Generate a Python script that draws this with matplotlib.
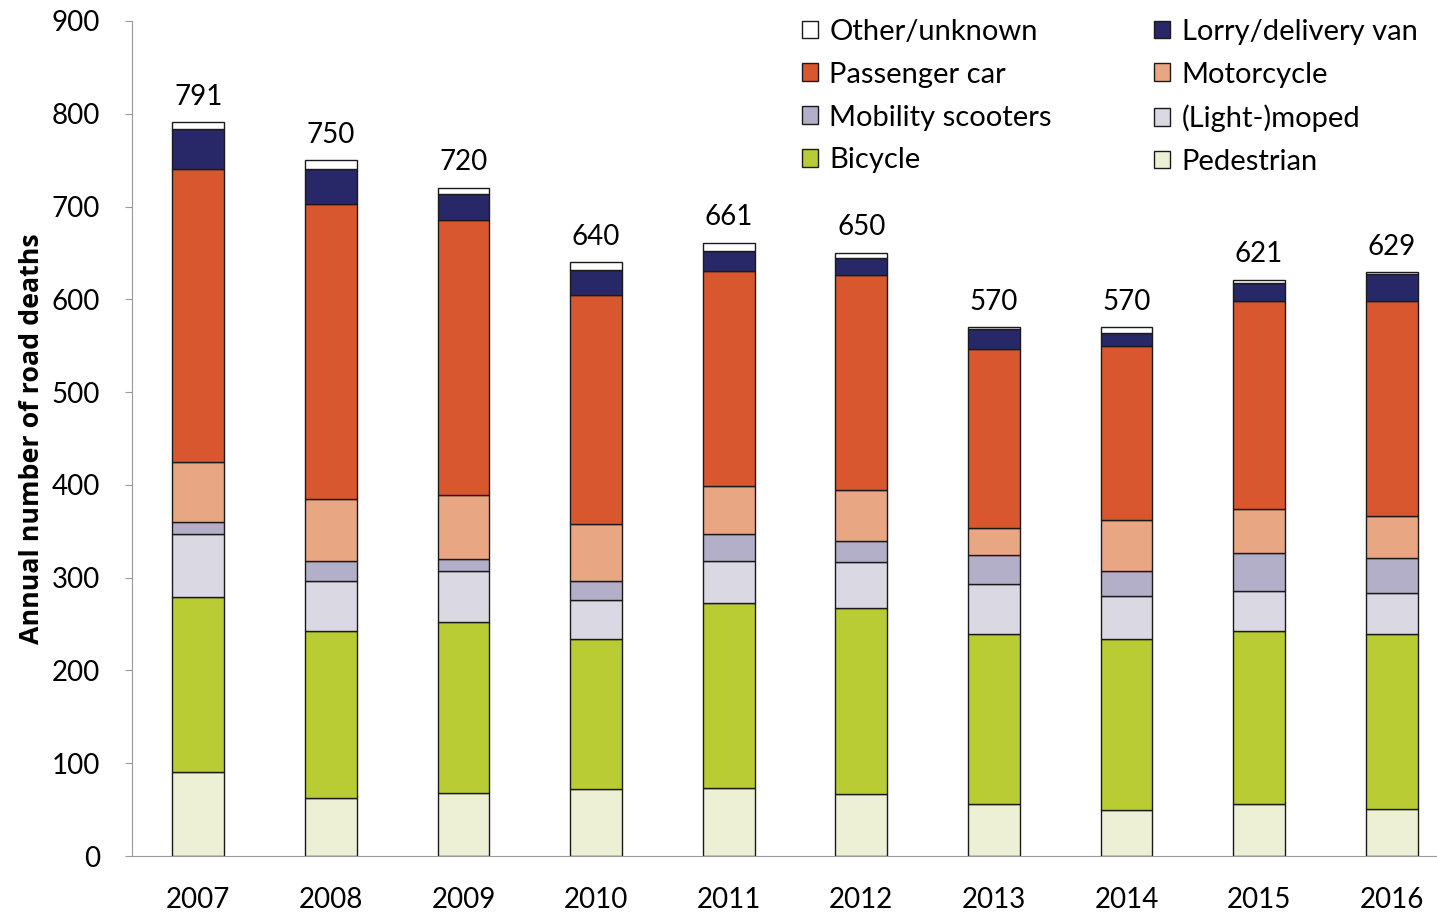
import matplotlib.pyplot as plt
import numpy as np

# Road deaths per transport mode
years = ["2007", "2008", "2009", "2010", "2011", "2012", "2013", "2014", "2015", "2016"]
pedestrian = [91, 62, 68, 72, 73, 67, 56, 50, 56, 51]
bicycle = [188, 180, 184, 162, 200, 200, 183, 184, 186, 188]
moped = [68, 54, 55, 42, 45, 50, 54, 46, 44, 44]
scooters = [13, 22, 13, 20, 29, 23, 31, 27, 41, 38]
motorcycle = [65, 67, 69, 62, 52, 55, 30, 55, 47, 46]
passenger_car = [316, 318, 297, 247, 232, 231, 193, 188, 224, 231]
lorry = [43, 38, 27, 27, 21, 19, 21, 14, 20, 29]
other = [7, 9, 7, 8, 9, 5, 2, 6, 3, 2]

series = [
    ("Pedestrian", pedestrian, "#EDF0D5"),
    ("Bicycle", bicycle, "#B9CC33"),
    ("(Light-)moped", moped, "#DAD8E2"),
    ("Mobility scooters", scooters, "#B3AFC8"),
    ("Motorcycle", motorcycle, "#E8A683"),
    ("Passenger car", passenger_car, "#D9572E"),
    ("Lorry/delivery van", lorry, "#282868"),
    ("Other/unknown", other, "#FFFFFF"),
]

plt.rcParams["font.family"] = ["Lato", "DejaVu Sans"]

fig = plt.figure(figsize=(14.37, 9.13), dpi=100)
ax = fig.add_axes([132 / 1437, 1 - 856 / 913, 1 - 132 / 1437, (856 - 21) / 913])

x = np.arange(len(years))
bottom = np.zeros(len(years))
bars = {}
for name, vals, color in series:
    bars[name] = ax.bar(x, vals, width=0.39, bottom=bottom, color=color,
                        edgecolor="#1a1a1a", linewidth=1.0, label=name)
    bottom += np.array(vals)

# totals above the bars
for xi, total in zip(x, bottom):
    ax.annotate(f"{int(total)}", (xi, total), xytext=(0, 9), textcoords="offset points",
                ha="center", va="bottom", fontsize=20, color="black")

ax.set_ylim(0, 900)
ax.set_xlim(-0.5, 9.5 - 21 / 132.7)
ax.set_yticks(range(0, 901, 100))
ax.set_xticks(x)
ax.set_xticklabels(years)
ax.tick_params(axis="y", labelsize=20, length=5, color="#999999", pad=18)
ax.tick_params(axis="x", labelsize=20, length=0, pad=22)
ax.spines["top"].set_visible(False)
ax.spines["right"].set_visible(False)
ax.spines["left"].set_color("#999999")
ax.spines["bottom"].set_color("#999999")
ax.set_ylabel("Annual number of road deaths", fontsize=19.3, fontweight="bold",
              family=["Open Sans", "DejaVu Sans"], labelpad=5)

order = ["Other/unknown", "Passenger car", "Mobility scooters", "Bicycle",
         "Lorry/delivery van", "Motorcycle", "(Light-)moped", "Pedestrian"]
handles = [bars[n] for n in order]
fig.legend(handles, order, ncol=2, loc="upper left", bbox_to_anchor=(790 / 1437, 1 - 7 / 913),
           frameon=False, fontsize=21, handlelength=0.55, handleheight=0.55,
           handletextpad=0.4, columnspacing=3.5, labelspacing=0.58, borderaxespad=0)

plt.savefig("out.png", dpi=100)
plt.close()
